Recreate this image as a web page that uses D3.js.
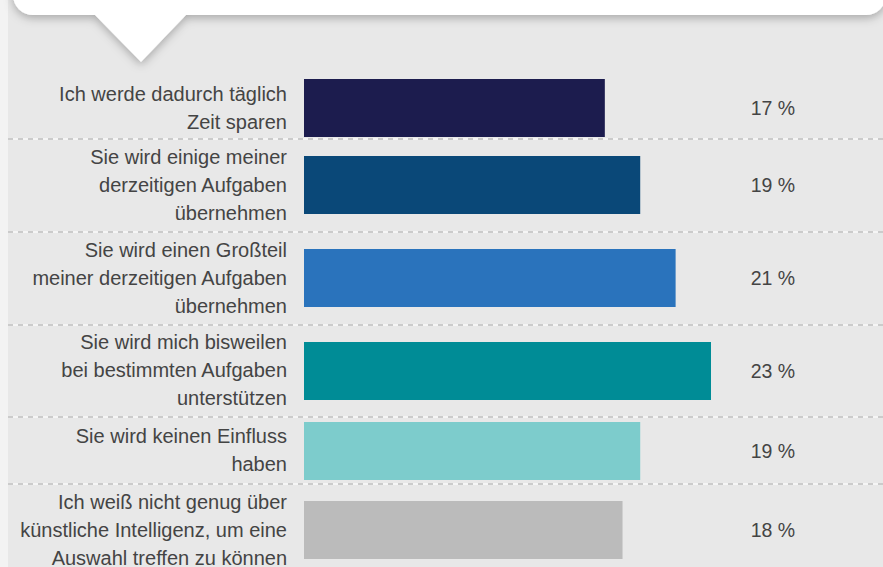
<!DOCTYPE html>
<html>
<head>
<meta charset="utf-8">
<script src="https://cdn.jsdelivr.net/npm/d3@7"></script>
<style>
  html, body { margin: 0; padding: 0; background: #f3f3f3; }
  svg { display: block; }
  text { font-family: "Liberation Sans", Arial, sans-serif; }
</style>
</head>
<body>
<div id="chart"></div>
<script>
// answers (each label split into its display lines)
const labels = [
  ["Ich werde dadurch täglich", "Zeit sparen"],
  ["Sie wird einige meiner", "derzeitigen Aufgaben", "übernehmen"],
  ["Sie wird einen Großteil", "meiner derzeitigen Aufgaben", "übernehmen"],
  ["Sie wird mich bisweilen", "bei bestimmten Aufgaben", "unterstützen"],
  ["Sie wird keinen Einfluss", "haben"],
  ["Ich weiß nicht genug über", "künstliche Intelligenz, um eine", "Auswahl treffen zu können"]
];
const values = [17, 19, 21, 23, 19, 18];
const colors = ["#1c1c4e", "#0a4878", "#2a73bc", "#008c96", "#7dcccc", "#bbbbbb"];

const W = 883, H = 567;
const svg = d3.select('#chart').append('svg').attr('width', W).attr('height', H);

// gray panel
svg.append('rect').attr('x', 0).attr('y', 0).attr('width', 8).attr('height', H).attr('fill', '#f3f3f3');
svg.append('rect').attr('x', 8).attr('y', 0).attr('width', W - 8).attr('height', H).attr('fill', '#e8e8e8');

// speech bubble at the top
const defs = svg.append('defs');
const f = defs.append('filter').attr('id', 'shadow').attr('x', '-10%').attr('y', '-50%').attr('width', '120%').attr('height', '200%');
f.append('feDropShadow').attr('dx', 0).attr('dy', 3).attr('stdDeviation', 5)
  .attr('flood-color', '#000').attr('flood-opacity', 0.28);

const bubble = d3.path();
bubble.moveTo(13, -40);
bubble.lineTo(13, -5);
bubble.arcTo(13, 15, 33, 15, 20);
bubble.lineTo(95, 15);
bubble.lineTo(141, 62);
bubble.lineTo(186, 15);
bubble.lineTo(866, 15);
bubble.arcTo(886, 15, 886, -5, 20);
bubble.lineTo(886, -40);
bubble.closePath();
svg.append('path').attr('d', bubble.toString()).attr('fill', '#fff').attr('filter', 'url(#shadow)');

// row layout from number of label lines
const lineH = 28;
const firstTop = 77.5, firstSep = 139;
const rows = [];
let rowY = firstSep;
labels.forEach((l, i) => {
  if (i === 0) { rows.push({ top: firstTop, bottom: firstSep }); return; }
  const h = 26 * l.length + 14.75;
  rows.push({ top: rowY, bottom: rowY + h });
  rowY += h;
});

const x = d3.scaleLinear().domain([0, 23]).range([304, 711]);
const barH = 58;

// separators
const seps = rows.slice(0, -1).map(r => Math.round(r.bottom));
const sepG = svg.append('g');
sepG.selectAll('line.base').data(seps).join('line')
  .attr('class', 'base')
  .attr('x1', 8).attr('x2', W).attr('y1', d => d).attr('y2', d => d)
  .attr('stroke', '#fafafa').attr('stroke-width', 1.5);
sepG.selectAll('line.dash').data(seps).join('line')
  .attr('class', 'dash')
  .attr('x1', 8).attr('x2', W).attr('y1', d => d).attr('y2', d => d)
  .attr('stroke', '#bdbdbd').attr('stroke-width', 1.5).attr('stroke-dasharray', '5,5');

const row = svg.selectAll('g.row').data(labels.map((l, i) => ({ lines: l, v: values[i], c: colors[i], r: rows[i] })))
  .join('g').attr('class', 'row');

row.append('rect')
  .attr('x', x(0))
  .attr('y', d => Math.round((d.r.top + d.r.bottom) / 2 - barH / 2))
  .attr('width', d => x(d.v) - x(0))
  .attr('height', barH)
  .attr('fill', d => d.c);

row.append('text')
  .attr('text-anchor', 'end')
  .attr('font-size', 20)
  .attr('fill', '#444')
  .selectAll('tspan').data(d => d.lines.map((t, i) => ({ t, i, n: d.lines.length, cy: (d.r.top + d.r.bottom) / 2 })))
  .join('tspan')
  .attr('x', 287)
  .attr('y', d => d.cy + (d.i - (d.n - 1) / 2) * lineH + 6.5)
  .text(d => d.t);

row.append('text')
  .attr('x', 773)
  .attr('y', d => (d.r.top + d.r.bottom) / 2 + 7)
  .attr('text-anchor', 'middle')
  .attr('font-size', 19.5)
  .attr('fill', '#444')
  .text(d => d.v + ' %');
</script>
</body>
</html>
